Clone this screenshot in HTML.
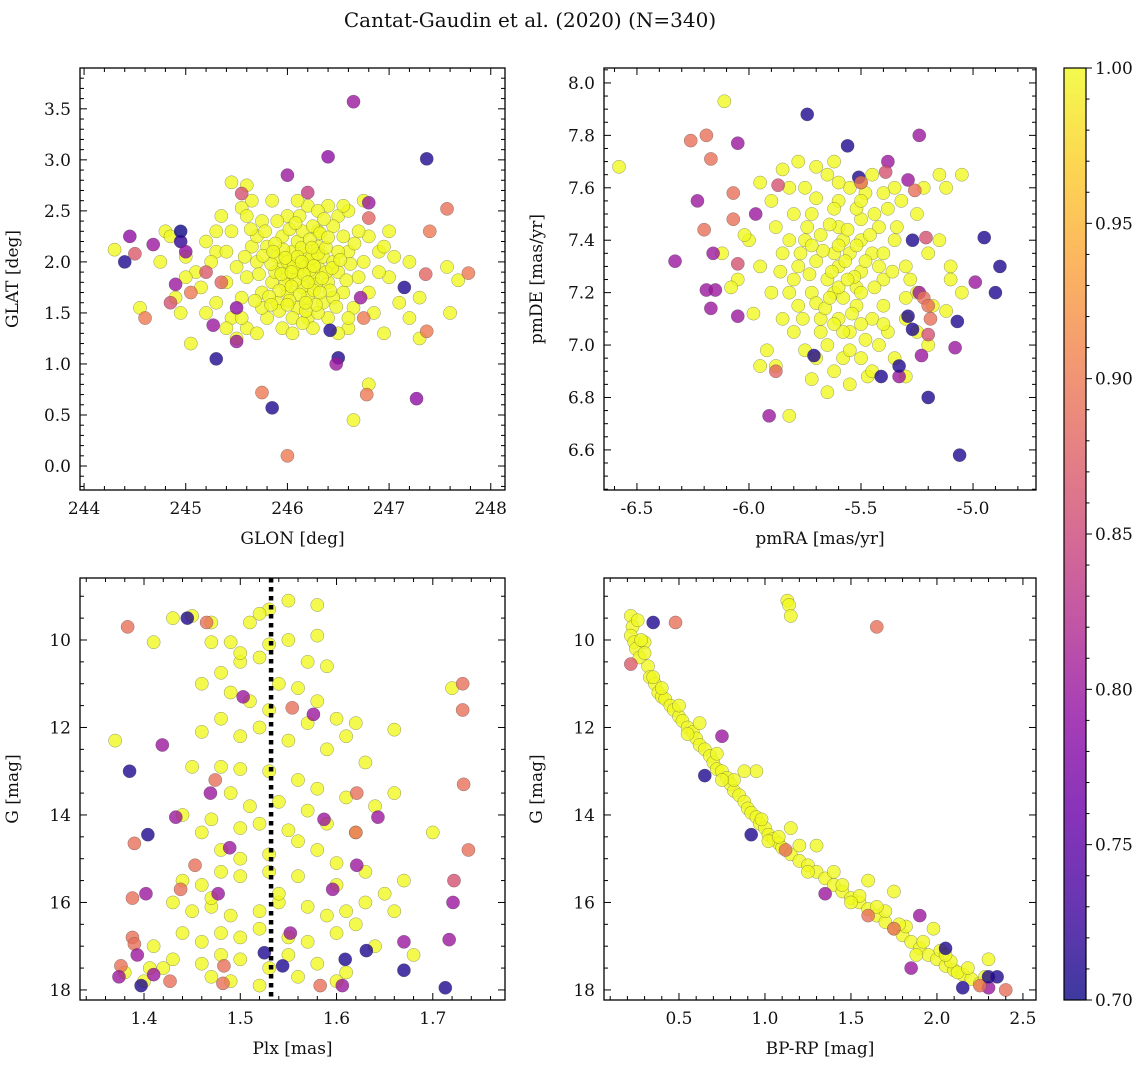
<!DOCTYPE html>
<html><head><meta charset="utf-8"><style>
body{margin:0;background:#fff;}
svg text{font-family:"DejaVu Serif","Liberation Serif",serif;fill:#111;}
</style></head><body>
<svg id="fig" width="1148" height="1067" viewBox="0 0 1148 1067" xmlns="http://www.w3.org/2000/svg">
<defs><linearGradient id="cbg" x1="0" y1="1" x2="0" y2="0">
<stop offset="0" stop-color="#0d0887"/><stop offset="0.1" stop-color="#41049d"/><stop offset="0.2" stop-color="#6a00a8"/><stop offset="0.3" stop-color="#8f0da4"/><stop offset="0.4" stop-color="#b12a90"/><stop offset="0.5" stop-color="#cc4778"/><stop offset="0.6" stop-color="#e16462"/><stop offset="0.7" stop-color="#f2844b"/><stop offset="0.8" stop-color="#fca636"/><stop offset="0.9" stop-color="#fcce25"/><stop offset="1" stop-color="#f0f921"/></linearGradient></defs>
<text x="530" y="27" font-size="20" text-anchor="middle">Cantat-Gaudin et al. (2020) (N=340)</text>
</svg>
<script>
// ---- data ----
const posYellow=[[244.3,2.12],[244.55,1.55],[244.8,2.3],[244.85,2.25],[245.05,1.2],[245.2,2.2],[245.1,1.9],[245.35,2.45],[245.45,2.78],[245.65,2.6],[245.55,2.53],[246.0,2.45],[246.3,2.3],[246.5,2.45],[246.8,2.25],[246.9,2.1],[247.0,1.85],[247.1,1.6],[247.2,2.0],[247.2,1.45],[247.3,1.65],[247.0,2.3],[246.95,1.3],[246.6,1.35],[246.2,1.45],[245.95,1.35],[245.6,1.35],[245.45,1.45],[244.95,1.5],[245.0,1.85],[245.3,2.1],[246.65,0.45],[246.8,0.8],[247.57,1.95],[247.68,1.82],[247.6,1.5],[247.3,1.25],[246.6,2.5],
[246.1,1.9],[246.2,2.0],[246.0,1.85],[246.15,1.75],[246.3,1.95],[246.05,2.1],[245.95,1.95],[246.25,1.85],[246.35,2.05],[246.1,2.2],[245.9,2.05],[246.2,1.65],[246.0,1.7],[245.85,1.8],[246.4,1.8],[246.45,2.0],[246.3,2.15],[245.8,2.15],[246.15,2.3],[245.7,2.0],[245.75,1.7],[246.5,1.9],[246.55,1.7],[246.1,1.55],[245.9,1.6],[246.35,1.6],[245.6,1.85],[245.65,2.15],[246.6,2.1],[246.25,2.35],[245.95,2.25],[246.05,1.45],[245.8,1.45],[246.4,1.45],[245.5,1.95],[245.55,1.65],[246.7,1.85],[246.65,1.55],[246.2,2.55],[246.1,2.6],[245.75,2.4],[245.4,2.1],[245.4,1.8],[245.3,1.6],[246.8,1.7],[246.75,2.0],[246.85,1.5],[246.5,1.3],[246.25,1.35],[245.7,1.3],[245.5,1.25],[245.2,1.5],[245.15,1.75],[245.25,2.0],[246.0,2.0],[246.12,1.98],[246.22,1.92],[246.08,1.82],[245.98,1.78],[246.18,2.08],[246.28,1.78],[246.38,1.9],[245.88,1.9],[246.02,2.32],[246.32,2.28],[245.7,2.25],[246.55,2.25],[246.45,2.35],[245.85,2.6],[245.6,2.45],[246.05,1.3],[246.6,1.45],[246.3,1.5],[245.4,1.35],[246.9,1.9],[247.05,2.05],[245.3,2.3],[245.0,2.05],[244.9,1.65],[244.75,2.0],[245.6,2.75],[246.55,2.55],[246.75,2.6],[245.55,1.45],[246.45,1.65],[245.75,1.55],[246.15,1.4],[246.7,2.3],[245.45,2.3],[246.4,2.55],[246.95,2.15],[246.3,2.5],[245.9,2.4],[246.12,2.45],
[246.06,1.95],[246.16,1.88],[246.24,2.04],[246.04,1.76],[245.94,1.88],[246.14,2.14],[246.34,1.84],[246.26,1.72],[245.84,1.98],[246.44,1.94],[246.2,1.8],[246.1,2.05],[245.96,2.12],[246.3,2.08],[245.92,1.72],[246.12,1.68],[246.38,2.14],[246.02,1.62],[245.82,1.66],[246.42,1.72],[246.22,2.22],[245.88,2.18],[246.5,2.1],[246.58,1.82],[245.72,1.88],[245.68,1.62],[246.28,1.58],[246.18,1.52],[245.92,1.52],[246.48,1.56],[246.08,2.38],[246.36,2.42],[245.78,2.3],[245.64,2.32],[245.58,2.05],[246.62,1.98],[246.66,2.18],[245.84,1.58],[246.0,1.58],[246.14,2.0],[246.26,1.96],[246.04,1.9],[245.98,2.04],[246.32,1.7],[246.18,1.6],[245.76,2.06],[246.52,2.02],[246.4,2.24],[245.86,2.1],[246.24,2.14]];
const posColored=[[244.4,2.0,0.71],[244.45,2.25,0.79],[244.5,2.08,0.87],[244.6,1.45,0.9],[244.68,2.17,0.8],[244.95,2.3,0.7],[244.95,2.2,0.72],[244.9,1.78,0.8],[244.85,1.6,0.86],[245.0,2.1,0.79],[245.05,1.7,0.9],[245.3,1.05,0.71],[245.27,1.38,0.8],[245.5,1.22,0.8],[245.2,1.9,0.87],[245.55,2.67,0.86],[245.5,1.55,0.79],[245.75,0.72,0.9],[245.85,0.57,0.71],[246.0,0.1,0.9],[246.0,2.85,0.8],[246.4,3.03,0.79],[246.65,3.57,0.8],[246.5,1.06,0.71],[246.48,1.0,0.8],[246.78,0.7,0.9],[246.8,2.58,0.8],[246.8,2.43,0.88],[246.75,1.45,0.9],[246.72,1.65,0.8],[247.15,1.75,0.71],[247.27,0.66,0.79],[247.37,3.01,0.71],[247.36,1.88,0.88],[247.4,2.3,0.9],[247.37,1.32,0.9],[247.57,2.52,0.89],[247.78,1.89,0.9],[246.42,1.33,0.71],[246.2,2.68,0.84],[245.35,1.8,0.88]];
const pmYellow=[[-5.6,7.3],[-5.55,7.35],[-5.65,7.25],[-5.5,7.28],[-5.7,7.32],[-5.58,7.4],[-5.62,7.2],[-5.45,7.35],[-5.75,7.4],[-5.52,7.15],[-5.68,7.1],[-5.4,7.25],[-5.8,7.25],[-5.6,7.45],[-5.5,7.48],[-5.72,7.5],[-5.35,7.4],[-5.85,7.35],[-5.55,7.05],[-5.65,7.0],[-5.45,7.1],[-5.78,7.15],[-5.9,7.2],[-5.3,7.3],[-5.6,7.55],[-5.48,7.58],[-5.75,7.6],[-5.38,7.52],[-5.88,7.45],[-5.95,7.3],[-5.25,7.2],[-5.3,7.1],[-5.5,6.95],[-5.62,6.9],[-5.7,6.95],[-5.8,7.05],[-5.85,7.1],[-5.92,6.98],[-5.42,7.0],[-5.35,6.95],[-5.55,6.85],[-5.47,6.88],[-5.65,6.82],[-5.82,7.4],[-5.42,7.45],[-5.58,7.18],[-5.68,7.42],[-5.52,7.22],[-5.62,7.35],[-5.42,7.3],[-5.78,7.3],[-5.72,7.2],[-5.5,7.4],[-5.55,7.6],[-5.65,7.65],[-5.45,7.65],[-5.35,7.6],[-5.25,7.5],[-5.2,7.35],[-5.28,7.25],[-5.15,7.4],[-5.1,7.3],[-5.18,7.15],[-6.0,7.4],[-6.05,7.25],[-5.98,7.12],[-5.95,6.92],[-5.9,7.55],[-5.82,7.6],[-5.85,7.67],[-5.78,7.7],[-5.7,7.68],[-5.62,7.7],[-5.5,7.62],[-5.4,7.58],[-5.32,7.55],[-5.22,7.6],[-5.12,7.6],[-5.2,7.0],[-5.25,7.05],[-5.38,7.05],[-5.45,6.9],[-5.58,6.95],[-5.75,6.98],[-5.88,6.92],[-5.6,7.1],[-5.5,7.08],[-5.4,7.15],[-5.3,7.18],[-5.15,7.65],[-6.11,7.93],[-5.82,6.73],[-6.58,7.68],[-6.12,7.35],[-6.02,7.42],[-6.08,7.22],[-5.95,7.62],[-5.05,7.65],[-5.1,7.25],[-5.12,7.13],[-5.05,7.2],[-5.72,6.87],[-5.55,6.98],[-5.3,6.88],
[-5.57,7.32],[-5.63,7.28],[-5.53,7.26],[-5.67,7.36],[-5.6,7.38],[-5.48,7.32],[-5.73,7.27],[-5.56,7.44],[-5.64,7.46],[-5.5,7.2],[-5.7,7.16],[-5.44,7.22],[-5.77,7.35],[-5.6,7.22],[-5.54,7.12],[-5.66,7.14],[-5.46,7.42],[-5.74,7.45],[-5.52,7.52],[-5.62,7.52],[-5.7,7.56],[-5.4,7.35],[-5.82,7.2],[-5.36,7.28],[-5.58,7.05],[-5.48,7.02],[-5.68,7.05],[-5.8,7.5],[-5.44,7.5],[-5.56,7.25],[-5.64,7.18],[-5.52,7.38],[-5.72,7.38],[-5.6,7.62],[-5.5,7.55],[-5.34,7.45],[-5.86,7.28],[-5.4,7.08],[-5.76,7.1],[-5.62,7.08]];
const pmColored=[[-6.33,7.32,0.8],[-6.26,7.78,0.89],[-6.19,7.8,0.89],[-6.17,7.71,0.89],[-6.23,7.55,0.8],[-6.19,7.21,0.8],[-6.17,7.14,0.8],[-6.15,7.21,0.8],[-6.16,7.35,0.8],[-6.2,7.44,0.89],[-6.07,7.48,0.89],[-6.07,7.58,0.89],[-6.05,7.77,0.8],[-6.05,7.31,0.86],[-6.05,7.11,0.8],[-5.97,7.5,0.8],[-5.91,6.73,0.8],[-5.87,7.61,0.86],[-5.88,6.9,0.88],[-5.74,7.88,0.71],[-5.71,6.96,0.71],[-5.56,7.76,0.71],[-5.51,7.64,0.71],[-5.5,7.62,0.89],[-5.41,6.88,0.71],[-5.38,7.7,0.8],[-5.39,7.66,0.86],[-5.33,6.88,0.8],[-5.33,6.92,0.71],[-5.29,7.63,0.8],[-5.26,7.59,0.89],[-5.27,7.4,0.71],[-5.29,7.11,0.71],[-5.27,7.06,0.71],[-5.24,7.8,0.8],[-5.24,7.2,0.8],[-5.23,6.96,0.8],[-5.22,7.18,0.89],[-5.2,7.15,0.89],[-5.19,7.1,0.89],[-5.21,7.41,0.86],[-5.2,6.8,0.71],[-5.2,7.04,0.86],[-5.08,6.99,0.8],[-5.07,7.09,0.71],[-5.06,6.58,0.71],[-4.99,7.24,0.8],[-4.95,7.41,0.71],[-4.9,7.2,0.71],[-4.88,7.3,0.71]];
const plxYellow=[[1.45,9.45],[1.47,9.6],[1.43,9.5],[1.51,9.6],[1.53,9.3],[1.55,9.1],[1.58,9.2],[1.52,9.4],[1.49,10.05],[1.47,10.05],[1.41,10.05],[1.53,10.1],[1.52,10.4],[1.55,10.0],[1.57,10.5],[1.58,9.9],[1.59,10.6],[1.5,10.5],[1.48,10.75],[1.5,10.3],[1.46,11.0],[1.49,11.2],[1.51,11.4],[1.54,11.0],[1.56,11.1],[1.58,11.4],[1.6,11.8],[1.62,11.9],[1.57,11.9],[1.53,11.6],[1.48,11.8],[1.46,12.1],[1.5,12.2],[1.52,12.0],[1.55,12.3],[1.59,12.5],[1.61,12.2],[1.63,12.8],[1.66,12.05],[1.72,11.1],[1.45,12.9],[1.48,12.9],[1.5,12.95],[1.53,13.0],[1.56,13.2],[1.58,13.4],[1.61,13.6],[1.64,13.8],[1.66,13.5],[1.37,12.3],[1.49,13.5],[1.51,13.8],[1.54,13.7],[1.57,13.9],[1.59,14.2],[1.62,14.4],[1.55,14.35],[1.52,14.2],[1.5,14.3],[1.47,14.1],[1.46,14.4],[1.48,14.8],[1.5,15.0],[1.53,14.9],[1.56,14.6],[1.58,14.8],[1.6,15.1],[1.63,15.3],[1.56,15.4],[1.53,15.3],[1.5,15.4],[1.48,15.3],[1.46,15.6],[1.44,15.5],[1.43,16.0],[1.45,16.2],[1.47,16.1],[1.49,16.3],[1.52,16.2],[1.54,16.0],[1.57,16.1],[1.59,16.3],[1.61,16.2],[1.63,16.0],[1.65,15.8],[1.67,15.5],[1.7,14.4],[1.66,16.2],[1.44,16.7],[1.46,16.9],[1.48,16.7],[1.5,16.8],[1.52,16.6],[1.55,16.8],[1.57,16.9],[1.6,16.7],[1.62,16.5],[1.64,17.0],[1.41,17.0],[1.43,17.3],[1.46,17.4],[1.48,17.2],[1.5,17.3],[1.53,17.5],[1.55,17.2],[1.58,17.4],[1.61,17.6],[1.47,17.7],[1.49,17.8],[1.52,17.9],[1.56,17.7],[1.6,17.8],[1.38,17.6],[1.4,17.8],[1.42,17.5],[1.68,17.2],[1.44,14.0],[1.6,15.6],[1.54,15.8],[1.47,15.9],[1.406,17.5]];
const plxColored=[[1.383,9.7,0.89],[1.385,13.0,0.71],[1.404,14.45,0.71],[1.39,14.65,0.89],[1.402,15.8,0.8],[1.388,15.9,0.89],[1.388,16.8,0.89],[1.39,16.95,0.89],[1.393,17.2,0.8],[1.376,17.45,0.89],[1.374,17.7,0.8],[1.397,17.9,0.71],[1.41,17.65,0.8],[1.427,17.8,0.89],[1.419,12.4,0.8],[1.433,14.05,0.8],[1.438,15.7,0.89],[1.453,15.15,0.89],[1.445,9.5,0.71],[1.465,9.6,0.89],[1.503,11.3,0.8],[1.474,13.2,0.89],[1.469,13.5,0.8],[1.489,14.75,0.8],[1.477,15.8,0.8],[1.483,17.45,0.89],[1.482,17.85,0.89],[1.525,17.15,0.71],[1.552,16.7,0.8],[1.544,17.45,0.71],[1.587,14.1,0.8],[1.621,15.15,0.8],[1.621,13.5,0.89],[1.643,14.05,0.8],[1.62,14.4,0.89],[1.596,15.7,0.8],[1.609,17.3,0.71],[1.606,17.9,0.8],[1.583,17.9,0.89],[1.631,17.1,0.71],[1.67,16.9,0.8],[1.67,17.55,0.71],[1.731,11.0,0.89],[1.731,11.6,0.89],[1.732,13.3,0.89],[1.737,14.8,0.89],[1.722,15.5,0.86],[1.721,16.0,0.8],[1.717,16.85,0.8],[1.713,17.95,0.71],[1.576,11.7,0.8],[1.554,11.55,0.89]];
const cmdYellow=[[0.22,9.45],[0.23,9.7],[0.22,9.9],[0.24,10.05],[0.25,10.2],[0.27,10.4],[0.3,10.05],[0.32,10.6],[0.33,10.85],[0.36,11.0],[0.38,11.2],[0.4,11.3],[0.42,11.35],[0.45,11.5],[0.47,11.6],[0.5,11.75],[0.52,11.85],[0.55,12.0],[0.58,12.1],[0.6,12.25],[0.62,12.4],[0.65,12.5],[0.68,12.65],[0.7,12.8],[0.72,12.95],[0.75,13.0],[0.78,13.15],[0.8,13.3],[0.82,13.45],[0.85,13.55],[0.88,13.7],[0.9,13.85],[0.92,13.95],[0.95,14.05],[0.97,14.2],[1.0,14.3],[1.02,14.45],[1.05,14.55],[1.08,14.65],[1.1,14.75],[1.15,14.9],[1.2,15.05],[1.25,15.15],[1.3,15.3],[1.35,15.45],[1.4,15.6],[1.45,15.75],[1.5,15.9],[1.55,16.0],[1.6,16.15],[1.65,16.3],[1.7,16.45],[1.75,16.6],[1.8,16.75],[1.85,16.9],[1.9,17.05],[1.95,17.2],[2.0,17.3],[2.05,17.45],[2.1,17.55],[2.15,17.65],[2.2,17.75],[2.25,17.85],[2.3,17.3],[2.12,17.6],[1.98,16.6],[1.75,15.75],[1.6,15.5],[1.3,14.7],[1.15,14.3],[0.95,13.0],[0.88,13.0],[0.62,11.9],[0.3,10.3],[0.28,10.0],[1.13,9.1],[1.14,9.2],[1.15,9.45],[0.4,11.1],[0.5,11.5],[0.72,12.6],[0.98,14.1],[1.02,14.6],[1.2,14.7],[1.4,15.3],[1.55,15.85],[1.7,16.2],[1.82,16.55],[1.92,16.9],[2.02,17.1],[2.08,17.35],[2.18,17.5],[2.28,17.7],[0.26,9.55],[0.82,13.2],[1.25,15.3],[1.5,16.0],[1.88,17.2],[0.35,10.85],[0.55,12.15],[0.75,13.2],[1.08,14.5],[1.45,15.6],[1.65,16.1],[1.78,16.5],[2.05,17.2]];
const cmdColored=[[0.35,9.6,0.71],[0.48,9.6,0.89],[1.65,9.7,0.89],[0.22,10.55,0.87],[0.65,13.1,0.71],[0.75,12.2,0.8],[0.92,14.45,0.71],[1.12,14.8,0.89],[1.9,16.3,0.8],[2.05,17.05,0.71],[2.3,17.95,0.8],[2.35,17.7,0.71],[2.4,18.0,0.89],[1.85,17.5,0.8],[2.15,17.95,0.71],[1.35,15.8,0.8],[2.25,17.9,0.89],[2.3,17.7,0.71],[1.6,16.3,0.89],[1.75,16.6,0.89]];
const cbTicks=[0.70,0.75,0.80,0.85,0.90,0.95,1.00];

// ---- helpers ----
const NS="http://www.w3.org/2000/svg";
const svg=document.getElementById('fig');
const stops=[[13,8,135],[65,4,157],[106,0,168],[143,13,164],[177,42,144],[204,71,120],[225,100,98],[242,132,75],[252,166,54],[252,206,37],[240,249,33]];
function plasma(p){let t=Math.max(0,Math.min(1,(p-0.7)/0.3))*10;const i=Math.min(9,Math.floor(t)),f=t-i;const a=stops[i],b=stops[i+1];return 'rgb('+a.map((v,k)=>Math.round(v+(b[k]-v)*f)).join(',')+')';}
function mk(tag,attrs,parent){const e=document.createElementNS(NS,tag);for(const k in attrs)e.setAttribute(k,attrs[k]);(parent||svg).appendChild(e);return e;}
function fmt(v,d){return v.toFixed(d);}

function panel(c){
  const g=mk('g',{});
  
  
  const sx=v=>c.x0+(v-c.xd[0])/(c.xd[1]-c.xd[0])*(c.x1-c.x0);
  const sy=v=>c.y0+(v-c.yd[0])/(c.yd[1]-c.yd[0])*(c.y1-c.y0);
  const drawPt=(x,y,p)=>{const e=mk('circle',{cx:sx(x),cy:sy(y),r:6.6,fill:plasma(p),'fill-opacity':0.8,stroke:'#444','stroke-opacity':0.55,'stroke-width':0.5},g);
    
    };
  c.yellow.forEach(d=>drawPt(d[0],d[1],1.0));
  c.colored.forEach(d=>drawPt(d[0],d[1],d[2]));
  if(c.vline!==undefined){const l=mk('line',{x1:sx(c.vline),x2:sx(c.vline),y1:c.y0,y2:c.y1,stroke:'#000','stroke-width':4.5,'stroke-dasharray':'4.5,4.5'},g);
    
    }
  const box=mk('rect',{x:c.x0,y:Math.min(c.y0,c.y1),width:c.x1-c.x0,height:Math.abs(c.y1-c.y0),fill:'none',stroke:'#000','stroke-width':1.3},g);
  
  
  const top=Math.min(c.y0,c.y1),bot=Math.max(c.y0,c.y1);
  const xlo=Math.min(...c.xd),xhi=Math.max(...c.xd),ylo=Math.min(...c.yd),yhi=Math.max(...c.yd);
  for(let v=Math.ceil(xlo/c.xmin-1e-6)*c.xmin;v<=xhi+1e-9;v+=c.xmin){const X=sx(v);const maj=Math.abs(v/c.xmaj-Math.round(v/c.xmaj))<1e-6;const L=maj?7:4;
    mk('line',{x1:X,x2:X,y1:bot,y2:bot-L,stroke:'#000','stroke-width':1},g);mk('line',{x1:X,x2:X,y1:top,y2:top+L,stroke:'#000','stroke-width':1},g);
    if(maj){const t=mk('text',{x:X,y:bot+24,'font-size':17,'text-anchor':'middle'},g);t.textContent=fmt(v,c.xdec);
      
      }}
  for(let v=Math.ceil(ylo/c.ymin-1e-6)*c.ymin;v<=yhi+1e-9;v+=c.ymin){const Y=sy(v);const maj=Math.abs(v/c.ymaj-Math.round(v/c.ymaj))<1e-6;const L=maj?7:4;
    mk('line',{x1:c.x0,x2:c.x0+L,y1:Y,y2:Y,stroke:'#000','stroke-width':1},g);mk('line',{x1:c.x1,x2:c.x1-L,y1:Y,y2:Y,stroke:'#000','stroke-width':1},g);
    if(maj){const t=mk('text',{x:c.x0-9,y:Y+6,'font-size':17,'text-anchor':'end'},g);t.textContent=fmt(v,c.ydec);
      
      }}
  const xl=mk('text',{x:(c.x0+c.x1)/2,y:bot+54,'font-size':17,'text-anchor':'middle'},g);xl.textContent=c.xlabel;
  
  
  const yx=c.x0-62,yc=(top+bot)/2;
  const yl=mk('text',{x:yx,y:yc,'font-size':17,'text-anchor':'middle',transform:'rotate(-90 '+yx+' '+yc+')'},g);yl.textContent=c.ylabel;
  
  
}
panel({name:'galactic-position-panel',x0:80,x1:505,y0:490,y1:68,xd:[243.96,248.14],yd:[-0.235,3.9],xmaj:1,xmin:0.2,ymaj:0.5,ymin:0.1,xdec:0,ydec:1,xlabel:'GLON [deg]',ylabel:'GLAT [deg]',yellow:posYellow,colored:posColored});
panel({name:'proper-motion-panel',x0:604,x1:1036,y0:490,y1:68,xd:[-6.647,-4.719],yd:[6.447,8.057],xmaj:0.5,xmin:0.1,ymaj:0.2,ymin:0.05,xdec:1,ydec:1,xlabel:'pmRA [mas/yr]',ylabel:'pmDE [mas/yr]',yellow:pmYellow,colored:pmColored});
panel({name:'parallax-magnitude-panel',x0:80,x1:505,y0:578,y1:1000,xd:[1.3335,1.775],yd:[8.583,18.23],xmaj:0.1,xmin:0.02,ymaj:2,ymin:0.5,xdec:1,ydec:0,xlabel:'Plx [mas]',ylabel:'G [mag]',yellow:plxYellow,colored:plxColored,vline:1.532});
panel({name:'color-magnitude-panel',x0:604,x1:1036,y0:578,y1:1000,xd:[0.064,2.576],yd:[8.583,18.23],xmaj:0.5,xmin:0.1,ymaj:2,ymin:0.5,xdec:1,ydec:0,xlabel:'BP-RP [mag]',ylabel:'G [mag]',yellow:cmdYellow,colored:cmdColored});

// colorbar
const cb=mk('g',{});


const cy=v=>1000-(v-0.70)/0.30*932;
mk('rect',{x:1064,y:68,width:22,height:932,fill:'url(#cbg)','fill-opacity':0.8},cb);
mk('rect',{x:1064,y:68,width:22,height:932,fill:'none',stroke:'#000','stroke-width':1.2},cb);
for(let i=0;i<=30;i++){const v=0.70+i*0.01;const Y=cy(v);const maj=i%5===0;mk('line',{x1:1086,x2:1086+(maj?6:3.5),y1:Y,y2:Y,stroke:'#000','stroke-width':1},cb);}
cbTicks.forEach(v=>{const t=mk('text',{x:1095,y:cy(v)+6,'font-size':17},cb);t.textContent=v.toFixed(2);
  
  });
</script>
</body></html>
